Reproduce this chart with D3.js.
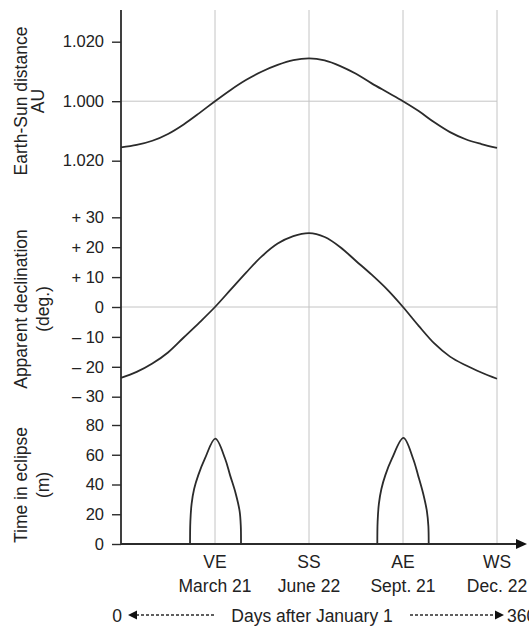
<!DOCTYPE html>
<html>
<head>
<meta charset="utf-8">
<script src="https://cdn.jsdelivr.net/npm/d3@7"></script>
<style>
    body { margin: 0; background: #fff; }
    svg text { font-family: "Liberation Sans", Arial, Helvetica, sans-serif; fill: #222; }
</style>
</head>
<body>
<div id="chart"></div>
<script>

// ---- data ----

// days after January 1 (idealised 360-day year)
let days = [0, 15, 30, 45, 60, 75, 90, 105, 120, 135, 150, 165, 180, 195, 210, 225, 240, 255, 270, 285, 300, 315, 330, 345, 360];

// Earth-Sun distance, AU
let distance = [0.9845, 0.9853, 0.9867, 0.9890, 0.9922, 0.9960, 1.0000, 1.0038, 1.0072, 1.0100, 1.0122, 1.0138, 1.0144,
    1.0137, 1.0118, 1.0092, 1.0060, 1.0030, 1.0000, 0.9967, 0.9929, 0.9896, 0.9872, 0.9856, 0.9843];

// apparent declination, degrees
let declination = [-23.7, -21.7, -18.9, -15.2, -10.2, -5.2, 0, 5.8, 11.6, 17.0, 21.2, 23.7, 24.7,
    23.4, 20.0, 15.4, 10.8, 5.8, 0, -6.3, -12.2, -16.6, -19.5, -21.9, -24.0];

// eclipse seasons (minutes in eclipse)
let springDays = [66.1, 66.4, 67.6, 70.0, 74.0, 80.4, 90.3, 99.6, 104.4, 109.8, 113.6, 114.7, 114.9];
let springMins = [0, 15, 27, 37, 46.3, 57.5, 70.8, 57.5, 46.3, 34, 22, 12, 0];
let autumnDays = [245.4, 245.7, 246.9, 249.3, 253.1, 259.5, 270.4, 279.6, 284.4, 289.3, 292.9, 294.3, 294.6];
let autumnMins = [0, 15, 27, 37, 46.3, 57.5, 71.3, 57.5, 46.3, 34, 22, 12, 0];

// axis ticks
let distTicks = [1.02, 1.00, 0.98];
let distLabels = ["1.020", "1.000", "1.020"];
let declTicks = [30, 20, 10, 0, -10, -20, -30];
let declLabels = ["+ 30", "+ 20", "+ 10", "0", "\u2013 10", "\u2013 20", "\u2013 30"];
let eclTicks = [0, 20, 40, 60, 80];

// seasons marked along the time axis
let seasonDays = [90, 180, 270, 360];
let seasonCodes = ["VE", "SS", "AE", "WS"];
let seasonDates = ["March 21", "June 22", "Sept. 21", "Dec. 22"];


// ---- drawing ----

let width = 529, height = 628;

let svg = d3.select("#chart").append("svg")
    .attr("width", width)
    .attr("height", height);

let ink = "#2b2b2b";
let grid = "#c4c4c4";

// shared time scale
let x = d3.scaleLinear().domain([0, 360]).range([121, 497]);

// one y scale per panel
let yDist = d3.scaleLinear().domain([0.98, 1.02]).range([160.7, 41.7]);
let yDecl = d3.scaleLinear().domain([-30, 30]).range([396.7, 217.3]);
let yEcl = d3.scaleLinear().domain([0, 80]).range([544, 425]);

let axisTop = 10, axisBottom = yEcl(0);

// vertical grid lines at the equinoxes / solstices
svg.append("g").selectAll("line")
    .data(seasonDays)
    .enter()
    .append("line")
    .attr("x1", d => x(d)).attr("x2", d => x(d))
    .attr("y1", axisTop).attr("y2", axisBottom)
    .attr("stroke", grid)
    .attr("stroke-width", 1);

// horizontal reference lines (1.000 AU and 0 deg)
svg.append("line")
    .attr("x1", x(0)).attr("x2", x(360))
    .attr("y1", yDist(1)).attr("y2", yDist(1))
    .attr("stroke", grid);
svg.append("line")
    .attr("x1", x(0)).attr("x2", x(360))
    .attr("y1", yDecl(0)).attr("y2", yDecl(0))
    .attr("stroke", grid);

// left axes - domain path removed, one long line drawn below instead
function leftAxis(scale, values, labels) {
    let axis = d3.axisLeft(scale)
        .tickValues(values)
        .tickSize(9)
        .tickPadding(8);
    if (labels) axis.tickFormat((d, i) => labels[i]);
    let g = svg.append("g")
        .attr("transform", `translate(${x(0)},0)`)
        .call(axis);
    g.select(".domain").remove();
    g.selectAll(".tick line").attr("stroke", ink).attr("stroke-width", 1.4);
    g.selectAll(".tick text")
        .attr("fill", "#222")
        .style("font-size", "16.5px")
        .style("font-family", "'Liberation Sans', Arial, sans-serif");
    return g;
}

leftAxis(yDist, distTicks, distLabels);
leftAxis(yDecl, declTicks, declLabels);
leftAxis(yEcl, eclTicks, null);

svg.append("line")
    .attr("x1", x(0)).attr("x2", x(0))
    .attr("y1", axisTop).attr("y2", axisBottom)
    .attr("stroke", ink)
    .attr("stroke-width", 1.8);

// time axis with arrow head
svg.append("line")
    .attr("x1", x(0)).attr("x2", 518)
    .attr("y1", axisBottom).attr("y2", axisBottom)
    .attr("stroke", ink)
    .attr("stroke-width", 1.8);
svg.append("path")
    .attr("d", `M516,${axisBottom - 5}L527,${axisBottom}L516,${axisBottom + 5}Z`)
    .attr("fill", "#111");

// curves
let distLine = d3.line()
    .x((d, i) => x(days[i]))
    .y(d => yDist(d))
    .curve(d3.curveMonotoneX);

let declLine = d3.line()
    .x((d, i) => x(days[i]))
    .y(d => yDecl(d))
    .curve(d3.curveMonotoneX);

svg.append("path")
    .attr("d", distLine(distance))
    .attr("fill", "none")
    .attr("stroke", ink)
    .attr("stroke-width", 1.8);

svg.append("path")
    .attr("d", declLine(declination))
    .attr("fill", "none")
    .attr("stroke", ink)
    .attr("stroke-width", 1.8);

// eclipse lobes
let eclLine = d3.line()
    .x(d => x(d[0]))
    .y(d => yEcl(d[1]))
    .curve(d3.curveCatmullRom.alpha(0.5));

[[springDays, springMins], [autumnDays, autumnMins]].forEach(season => {
    svg.append("path")
        .attr("d", eclLine(d3.zip(season[0], season[1])))
        .attr("fill", "none")
        .attr("stroke", ink)
        .attr("stroke-width", 1.8);
});

// season labels under the axis
svg.append("g").selectAll("text")
    .data(seasonCodes)
    .enter()
    .append("text")
    .attr("x", (d, i) => x(seasonDays[i]))
    .attr("y", 568)
    .attr("text-anchor", "middle")
    .style("font-size", "17.5px")
    .text(d => d);

svg.append("g").selectAll("text")
    .data(seasonDates)
    .enter()
    .append("text")
    .attr("x", (d, i) => x(seasonDays[i]))
    .attr("y", 592)
    .attr("text-anchor", "middle")
    .style("font-size", "17.5px")
    .text(d => d);

// "0 <---- Days after January 1 ----> 360"
let rowY = 621.5;
svg.append("text")
    .attr("x", 122).attr("y", rowY)
    .attr("text-anchor", "end")
    .style("font-size", "17.5px")
    .text("0");
svg.append("text")
    .attr("x", 312).attr("y", rowY)
    .attr("text-anchor", "middle")
    .style("font-size", "17.5px")
    .text("Days after January 1");
svg.append("text")
    .attr("x", 507).attr("y", rowY)
    .style("font-size", "17.5px")
    .text("360");

let arrowY = rowY - 6.5;
svg.append("line")
    .attr("x1", 136).attr("x2", 215)
    .attr("y1", arrowY).attr("y2", arrowY)
    .attr("stroke", ink).attr("stroke-width", 1.3)
    .attr("stroke-dasharray", "3,2");
svg.append("path")
    .attr("d", `M137,${arrowY - 4.5}L128,${arrowY}L137,${arrowY + 4.5}Z`)
    .attr("fill", "#111");
svg.append("line")
    .attr("x1", 410).attr("x2", 496)
    .attr("y1", arrowY).attr("y2", arrowY)
    .attr("stroke", ink).attr("stroke-width", 1.3)
    .attr("stroke-dasharray", "3,2");
svg.append("path")
    .attr("d", `M495,${arrowY - 4.5}L504,${arrowY}L495,${arrowY + 4.5}Z`)
    .attr("fill", "#111");

// rotated panel titles, two lines each
function panelTitle(cy, line1, line2, gap) {
    let g = svg.append("g")
        .attr("transform", `translate(27,${cy}) rotate(-90)`);
    g.append("text")
        .attr("text-anchor", "middle")
        .style("font-size", "17.5px")
        .text(line1);
    g.append("text")
        .attr("y", gap)
        .attr("text-anchor", "middle")
        .style("font-size", "17.5px")
        .text(line2);
}

panelTitle(101, "Earth-Sun distance", "AU", 17);
panelTitle(309, "Apparent declination", "(deg.)", 22);
panelTitle(485, "Time in eclipse", "(m)", 22);

</script>
</body>
</html>
